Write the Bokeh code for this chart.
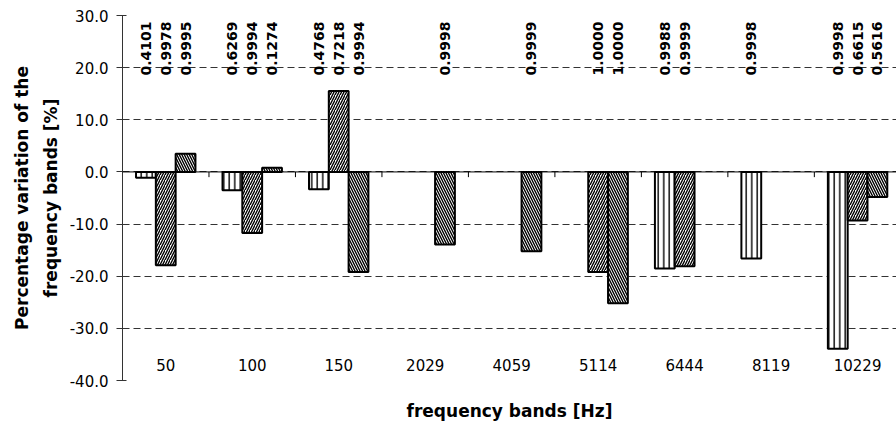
import math

from bokeh.core.properties import value
from bokeh.embed import file_html
from bokeh.models import FixedTicker, PrintfTickFormatter, Range1d, Span, Title
from bokeh.plotting import figure
from bokeh.resources import INLINE

# Frequency bands (Hz) shown along the category axis
bands = ["50", "100", "150", "2029", "4059", "5114", "6444", "8119", "10229"]

# Percentage variation of each band for the three series (None = no bar)
var_s1 = [-1.1, -3.5, -3.3, None, None, None, -18.5, -16.6, -33.9]
var_s2 = [-17.9, -11.7, 15.5, None, None, -19.2, -18.1, None, -9.3]
var_s3 = [3.5, 0.8, -19.2, -13.9, -15.2, -25.2, None, None, -4.8]

# Correlation coefficients printed above each bar
corr_s1 = ["0.4101", "0.6269", "0.4768", None, None, None, "0.9988", "0.9998", "0.9998"]
corr_s2 = ["0.9978", "0.9994", "0.7218", None, None, "1.0000", "0.9999", None, "0.6615"]
corr_s3 = ["0.9995", "0.1274", "0.9994", "0.9998", "0.9999", "1.0000", None, None, "0.5616"]

y_ticks = [-40, -30, -20, -10, 0, 10, 20, 30]
y_title_lines = ["Percentage variation of the", "frequency bands [%]"]

FONT = "DejaVu Sans"
n = len(bands)
bar_w = 0.229
offsets = [-bar_w, 0.0, bar_w]
hatches = ["|", "/", "\\"]
series = [var_s1, var_s2, var_s3]
corrs = [corr_s1, corr_s2, corr_s3]

p = figure(
    width=896,
    height=426,
    output_backend="svg",
    toolbar_location=None,
    x_range=Range1d(0, 8.95),
    y_range=Range1d(-40, 30),
    min_border_left=122,
    min_border_right=0,
    min_border_top=15,
    min_border_bottom=46,
)
p.outline_line_color = None
p.background_fill_color = "white"

# y axis
p.yaxis.ticker = FixedTicker(ticks=y_ticks)
p.yaxis.formatter = PrintfTickFormatter(format="%.1f")
p.yaxis.minor_tick_line_color = None
p.yaxis.major_tick_out = 6
p.yaxis.major_tick_in = 4
p.yaxis.major_label_standoff = 8
p.yaxis.axis_line_color = "#333333"
p.yaxis.major_tick_line_color = "#333333"
p.yaxis.major_label_text_font = FONT
p.yaxis.major_label_text_font_size = "15px"
p.yaxis.major_label_text_color = "black"

# two-line y title, each line centred on the frame height (inner line first)
for line, standoff in zip(reversed(y_title_lines), [12, 2]):
    p.add_layout(
        Title(
            text=line, align="center", text_font=FONT, text_font_size="17px",
            text_font_style="bold", text_color="black", standoff=standoff,
        ),
        "left",
    )

# x axis only carries the title; band names are drawn inside the frame
p.xaxis.ticker = FixedTicker(ticks=[])
p.xaxis.axis_line_color = None
p.xaxis.major_tick_line_color = None
p.xaxis.minor_tick_line_color = None
p.xaxis.major_tick_out = 0
p.xaxis.axis_label = "frequency bands [Hz]"
p.xaxis.axis_label_text_font = FONT
p.xaxis.axis_label_text_font_size = "17px"
p.xaxis.axis_label_text_font_style = "bold"
p.xaxis.axis_label_text_color = "black"
p.xaxis.axis_label_standoff = 20

# dashed horizontal gridlines
p.xgrid.visible = False
p.ygrid.ticker = FixedTicker(ticks=y_ticks)
p.ygrid.grid_line_color = "#333333"
p.ygrid.grid_line_dash = "7 4"
p.ygrid.grid_line_width = 1

# category axis along zero with boundary ticks
p.add_layout(Span(location=0, dimension="width", line_color="black", line_width=1))
bounds = list(range(1, n))
p.segment(x0=bounds, y0=[0] * len(bounds), x1=bounds, y1=[-1.0] * len(bounds),
          line_color="black", line_width=1)

# bars
for vals, off, hatch in zip(series, offsets, hatches):
    xs = [i + 0.5 + off for i, v in enumerate(vals) if v is not None]
    tops = [v for v in vals if v is not None]
    p.vbar(
        x=xs, top=tops, bottom=0, width=bar_w,
        fill_color="white", line_color="black", line_width=2,
        hatch_pattern=hatch, hatch_color="black",
        hatch_scale=5.5 if hatch == "|" else 5, hatch_weight=1.4,
    )

# correlation labels, vertical, near the top
for labels, off in zip(corrs, offsets):
    xs = [i + 0.5 + off for i, t in enumerate(labels) if t is not None]
    texts = [t for t in labels if t is not None]
    p.text(
        x=xs, y=[18.5] * len(xs), text=texts, angle=math.pi / 2,
        text_align="left", text_baseline="middle",
        text_font=value(FONT), text_font_size="14px", text_font_style="bold",
        text_color="black",
    )

# band names near the bottom of the frame
p.text(
    x=[i + 0.5 for i in range(n)], y=[-37.1] * n, text=bands,
    text_align="center", text_baseline="middle",
    text_font=value(FONT), text_font_size="15px", text_color="black",
)

open("out.html", "w").write(file_html(p, INLINE))
